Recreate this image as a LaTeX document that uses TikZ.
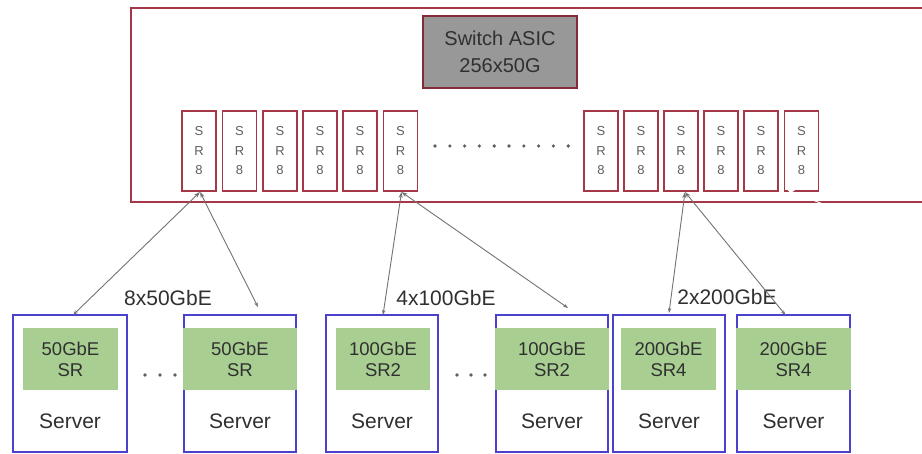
\documentclass[tikz,border=0pt]{standalone}
\usepackage{fontspec}
\setmainfont{Liberation Sans}
\usetikzlibrary{calc,arrows.meta}
\definecolor{boxred}{RGB}{165,55,70}
\definecolor{asicgray}{RGB}{152,152,152}
\definecolor{srvblue}{RGB}{75,65,205}
\definecolor{nicgreen}{RGB}{168,206,146}
\definecolor{txtdark}{RGB}{48,48,48}
\definecolor{txtgray}{RGB}{95,95,95}
\definecolor{linkgray}{RGB}{115,115,115}
\tikzset{
  chassis/.style={draw=boxred, line width=1.4pt, inner sep=0pt, outer sep=0pt},
  asic/.style={draw=boxred!80!black, fill=asicgray, line width=1.6pt, inner sep=0pt, outer sep=0pt,
    minimum width=154, minimum height=72, align=center, text=txtdark,
    font=\fontsize{20}{27}\selectfont},
  srbox/.style={draw=boxred, line width=1.2pt, fill=white, inner sep=0pt, outer sep=0pt,
    minimum width=34, minimum height=80, align=center, text=txtgray,
    font=\fontsize{13}{19.5}\selectfont},
  server/.style={draw=srvblue, line width=1.4pt, inner sep=0pt, outer sep=0pt, minimum height=137},
  nic/.style={fill=nicgreen, inner sep=0pt, outer sep=0pt, minimum height=62, align=center,
    text=txtdark, font=\fontsize{18.5}{21}\selectfont},
  srvlabel/.style={inner sep=0pt, text=txtdark, font=\fontsize{21}{25}\selectfont},
  ratelabel/.style={inner sep=0pt, text=txtdark, font=\fontsize{21}{25}\selectfont},
  link/.style={draw=linkgray, line width=0.9pt,
    {Stealth[length=6pt,width=4pt]}-{Stealth[length=5pt,width=3.5pt]}},
  dotmark/.style={fill=txtgray, draw=none, circle, inner sep=0pt, minimum size=3.6pt}
}
\begin{document}
\begin{tikzpicture}[x=1pt,y=-1pt]
\useasboundingbox (0,0) rectangle (922,453);
\clip (0,0) rectangle (922,453);
\fill[white] (0,0) rectangle (922,453);

% chassis (extends past the right edge)
\node[chassis, minimum width=809, minimum height=194] (chassis) at (535.5,105) {};

% switch ASIC
\node[asic] (asic) at (500,52) {Switch ASIC\\256x50G};

% SR8 modules
\foreach \x/\n in {199/s1,239.5/s2,280/s3,320/s4,360/s5,400.5/s6,
                   601/t1,641/t2,681/t3,721/t4,761/t5,801.5/t6}
  \node[srbox] (\n) at (\x,151) {S\\R\\8};

% dots between module groups
\foreach \i in {0,...,9}
  \node[dotmark] (md\i) at (435+\i*14.8,146) {};

% servers
\node[server, minimum width=114] (b1) at (70,383.5) {};
\node[server, minimum width=112] (b2) at (240,383.5) {};
\node[server, minimum width=112] (b3) at (382,383.5) {};
\node[server, minimum width=112] (b4) at (552,383.5) {};
\node[server, minimum width=112] (b5) at (669,383.5) {};
\node[server, minimum width=113] (b6) at (793.5,383.5) {};

\node[nic, minimum width=95] (n1) at (70.5,359) {50GbE\\SR};
\node[nic, minimum width=113.4] (n2) at (240,359) {50GbE\\SR};
\node[nic, minimum width=94] (n3) at (383,359) {100GbE\\SR2};
\node[nic, minimum width=113.4] (n4) at (552,359) {100GbE\\SR2};
\node[nic, minimum width=95] (n5) at (668.5,359) {200GbE\\SR4};
\node[nic, minimum width=114.4] (n6) at (793.5,359) {200GbE\\SR4};

\foreach \b in {1,...,6}
  \node[srvlabel] (l\b) at ($(b\b.north)+(0,106)$) {Server};

% dots between servers
\foreach \x/\n in {145/d1,160/d2,175/d3,457/d4,471/d5,485/d6}
  \node[dotmark] (\n) at (\x,375) {};

% rate labels
\node[ratelabel] (r1) at (168,298) {8x50GbE};
\node[ratelabel] (r2) at (446,298) {4x100GbE};
\node[ratelabel] (r3) at (727,297) {2x200GbE};

% links
\draw[link] ($(s1.south)+(1,1)$) -- ($(b1.north)+(3,0)$);
\draw[link] ($(s1.south)+(1,1)$) -- ($(b2.north)+(18,-8)$);
\draw[link] ($(s6.south)+(1,1)$) -- ($(b3.north)+(1,0)$);
\draw[link] ($(s6.south)+(1,1)$) -- ($(b4.north)+(16,-7)$);
\draw[link] ($(t3.south)+(4,1)$) -- ($(b5.north)+(0,-2)$);
\draw[link] ($(t3.south)+(4,1)$) -- ($(b6.north)+(-8,0)$);

% faint white arrow near the last module
\coordinate (wa) at (843,212);
\draw[white, line width=1pt, -{Stealth[length=7pt,width=5pt]}] (wa) -- ($(t6.south)+(-14,-1)$);
\end{tikzpicture}
\end{document}
